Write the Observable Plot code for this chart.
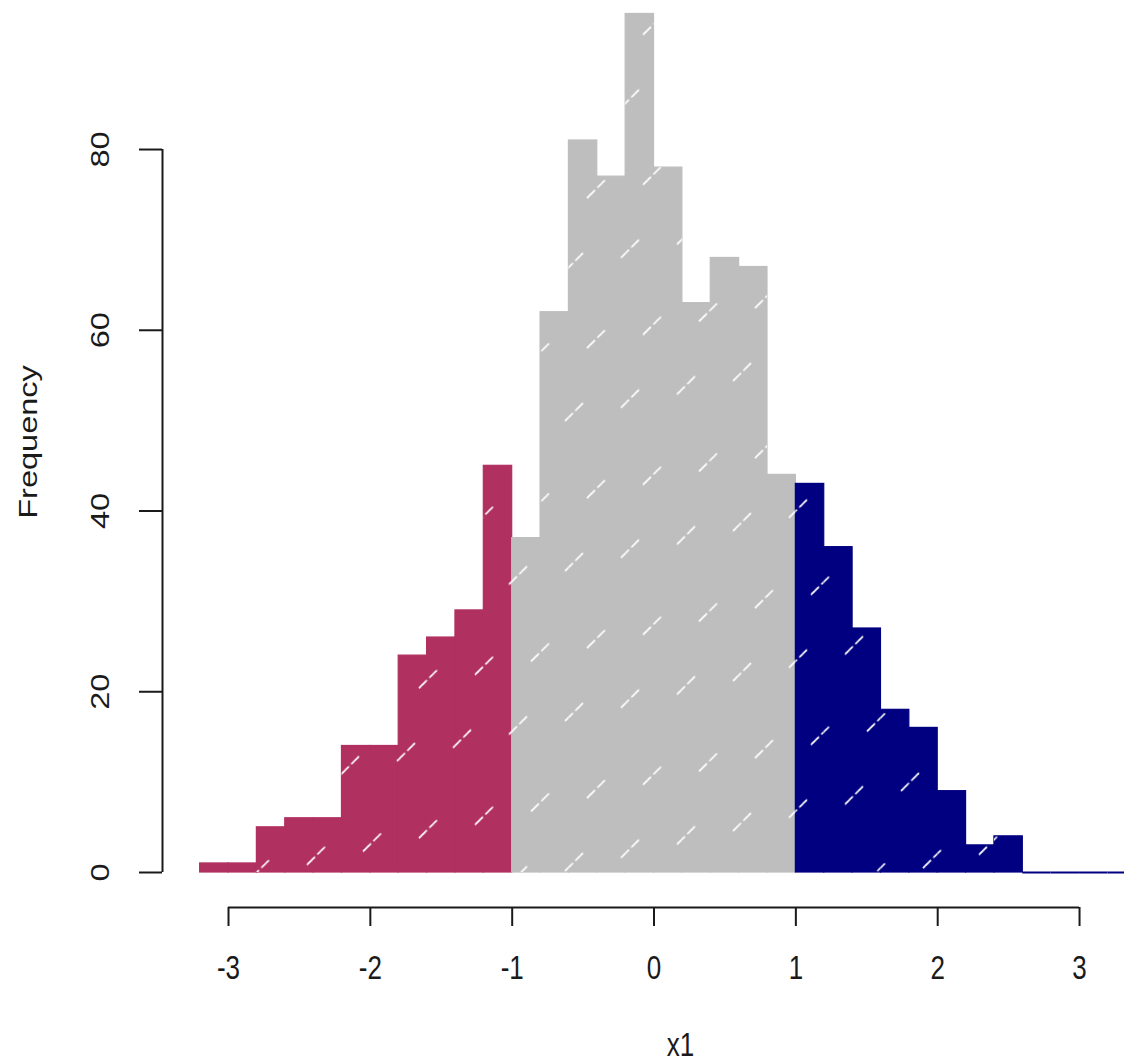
<!DOCTYPE html>
<html><head><meta charset="utf-8">
<script src="https://cdn.jsdelivr.net/npm/d3@7"></script>
<script src="https://cdn.jsdelivr.net/npm/@observablehq/plot@0.6"></script>
<style>
html,body{margin:0;padding:0;background:#fff;overflow:hidden;}
</style></head><body><div id="chart"></div>
<script>
// histogram bins (width 0.2)
const binStart = [-3.2,-3.0,-2.8,-2.6,-2.4,-2.2,-2.0,-1.8,-1.6,-1.4,-1.2,-1.0,-0.8,-0.6,-0.4,-0.2,0.0,0.2,0.4,0.6,0.8,1.0,1.2,1.4,1.6,1.8,2.0,2.2,2.4,2.6,2.8,3.0,3.2];
const binEnd   = [-3.0,-2.8,-2.6,-2.4,-2.2,-2.0,-1.8,-1.6,-1.4,-1.2,-1.0,-0.8,-0.6,-0.4,-0.2,0.0,0.2,0.4,0.6,0.8,1.0,1.2,1.4,1.6,1.8,2.0,2.2,2.4,2.6,2.8,3.0,3.2,3.4];
const counts   = [1,1,5,6,6,14,14,24,26,29,45,37,62,81,77,95,78,63,68,67,44,43,36,27,18,16,9,3,4,0,0,0,0];
const groups   = ["low","low","low","low","low","low","low","low","low","low","low",
                  "mid","mid","mid","mid","mid","mid","mid","mid","mid","mid",
                  "high","high","high","high","high","high","high","high","high","high","high","high"];
const groupColors = {low: "#B03060", mid: "#BEBEBE", high: "#000080"};
const xTicks = [-3,-2,-1,0,1,2,3];
const yTicks = [0,20,40,60,80];
const xLabel = "x1";
const yLabel = "Frequency";

const bins = binStart.map((s, i) => ({x1: s, x2: binEnd[i], count: counts[i], color: groupColors[groups[i]]}));

const xDomain = [-3.4654, 3.317];
const yDomain = [-3.873, 96.49];
const FS = 26;
const S = 1.25;
const ink = "#1a1a1a";

const svg = Plot.plot({
  width: 1124,
  height: 1063,
  marginLeft: 162,
  marginRight: 0,
  marginTop: 0,
  marginBottom: 156,
  style: {background: "white", overflow: "hidden", fontFamily: "'Liberation Sans', Arial, sans-serif"},
  x: {domain: xDomain, axis: null},
  y: {domain: yDomain, axis: null},
  color: {type: "identity"},
  marks: [
    Plot.rect(bins.filter(d => d.count > 0), {x1: "x1", x2: "x2", y1: 0, y2: "count", fill: "color", stroke: "color", strokeWidth: 1.2, clip: true}),
    Plot.rect(bins.filter(d => d.count > 0), {x1: "x1", x2: "x2", y1: 0, y2: "count", fill: "url(#hatch)", clip: true}),
    Plot.ruleY(bins.filter(d => d.count === 0), {x1: "x1", x2: "x2", y: 0, stroke: "color", strokeWidth: 2, clip: true}),
    Plot.ruleY([yDomain[0]], {x1: xTicks[0], x2: xTicks[xTicks.length - 1], stroke: ink, strokeWidth: 2}),
    Plot.ruleX([xDomain[0]], {y1: yTicks[0], y2: yTicks[yTicks.length - 1], stroke: ink, strokeWidth: 2}),
    Plot.axisX({ticks: xTicks, tickSize: 19, tickFormat: () => "", label: null, stroke: ink, strokeWidth: 2}),
    Plot.axisY({ticks: yTicks, tickSize: 23, tickFormat: () => "", label: null, stroke: ink, strokeWidth: 2}),
    Plot.text(xTicks, {x: d => d, frameAnchor: "bottom", textAnchor: "middle", lineAnchor: "middle", dy: 61, text: d => String(d), fontSize: FS, fill: ink}),
    Plot.text(yTicks, {y: d => d, frameAnchor: "left", textAnchor: "middle", lineAnchor: "middle", dx: -62, rotate: -90, text: d => String(d), fontSize: FS, fill: ink}),
    Plot.text([xLabel], {frameAnchor: "bottom", textAnchor: "middle", lineAnchor: "middle", dx: 37, dy: 138, text: d => d, fontSize: FS, fill: ink}),
    Plot.text([yLabel], {frameAnchor: "left", textAnchor: "middle", lineAnchor: "middle", dx: -134, dy: -12, rotate: -90, text: d => d, fontSize: FS, fill: ink})
  ]
});

d3.select(svg).insert("defs", ":first-child").html(`
  <pattern id="hatch" patternUnits="userSpaceOnUse" width="56" height="150" x="0" y="58.8" patternTransform="skewY(-13.4)">
    <g stroke="#ffffff" stroke-width="2" stroke-dasharray="10 3" fill="none" opacity="0.95">
      <line x1="5" y1="46.85" x2="23" y2="33.15"/>
      <line x1="27" y1="129.15" x2="45" y2="115.45"/>
    </g>
  </pattern>`);

svg.querySelectorAll('g[aria-label="text"] text').forEach(t => {
  const tr = t.getAttribute("transform") || "";
  t.setAttribute("transform", tr + (tr.includes("rotate") ? ` scale(${S},1)` : ` scale(1,${S})`));
});

document.getElementById("chart").appendChild(svg);
</script>
</body></html>
